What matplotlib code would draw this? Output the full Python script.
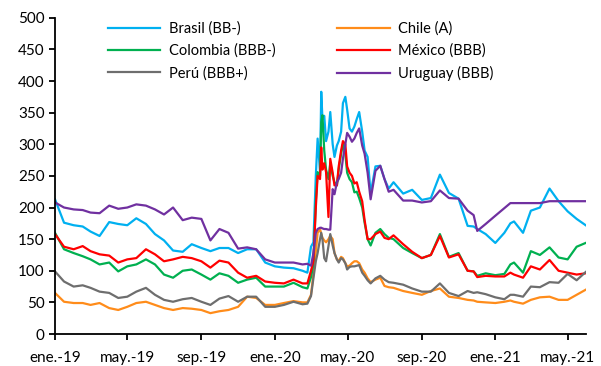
import matplotlib
matplotlib.use("Agg")
import matplotlib.pyplot as plt
import matplotlib.dates as mdates
import pandas as pd

# fechas (aprox. quincenal, mas denso en el pico de 2020)
dates = pd.to_datetime([
    "2019-01-01", "2019-01-16", "2019-02-01", "2019-02-16", "2019-03-01", "2019-03-16",
    "2019-04-01", "2019-04-16", "2019-05-01", "2019-05-16", "2019-06-01", "2019-06-16",
    "2019-07-01", "2019-07-16", "2019-08-01", "2019-08-16", "2019-09-01", "2019-09-16",
    "2019-10-01", "2019-10-16", "2019-11-01", "2019-11-16", "2019-12-01", "2019-12-16",
    "2020-01-01", "2020-01-16", "2020-02-01", "2020-02-16", "2020-02-24",
    "2020-03-01", "2020-03-05", "2020-03-09", "2020-03-12", "2020-03-16", "2020-03-18",
    "2020-03-20", "2020-03-23", "2020-03-26", "2020-03-30",
    "2020-04-02", "2020-04-06", "2020-04-09", "2020-04-13", "2020-04-16", "2020-04-20",
    "2020-04-23", "2020-04-27", "2020-04-30",
    "2020-05-04", "2020-05-08", "2020-05-12", "2020-05-16", "2020-05-20", "2020-05-25",
    "2020-05-29", "2020-06-03", "2020-06-08", "2020-06-16", "2020-06-24",
    "2020-07-01", "2020-07-08", "2020-07-16", "2020-08-01", "2020-08-16",
    "2020-09-01", "2020-09-16", "2020-10-01", "2020-10-16", "2020-11-01", "2020-11-16",
    "2020-11-26", "2020-12-02", "2020-12-16",
    "2021-01-01", "2021-01-16", "2021-01-26", "2021-02-01", "2021-02-16",
    "2021-03-01", "2021-03-16", "2021-04-01", "2021-04-16", "2021-05-01", "2021-05-16",
    "2021-05-31",
])

brasil = [213, 176, 172, 170, 162, 155, 177, 174, 172, 183, 174, 158, 148, 132,
          130, 142, 136, 131, 136, 136, 128, 134, 134, 113, 107, 105, 104,
          100, 97, 138, 145, 250, 309, 256, 383, 340, 345, 305, 320,
          351, 300, 280, 298, 305, 320, 365, 375, 355,
          325, 320, 328, 340, 351, 320, 290, 280, 222, 265, 266,
          245, 230, 240, 222, 228, 212, 215, 252, 223, 214, 171, 170, 166, 158,
          144, 160, 175, 178, 160, 195, 200, 230, 210, 194, 182, 172]
chile = [65, 51, 49, 49, 46, 49, 41, 38, 43, 49, 51, 46, 41, 38,
         41, 40, 38, 33, 36, 38, 43, 59, 57, 46, 46, 49, 52,
         50, 50, 62, 95, 130, 160, 166, 158, 152, 148, 145, 150,
         155, 150, 128, 118, 116, 122, 120, 112, 107,
         108, 112, 115, 115, 112, 102, 97, 88, 82, 86, 89,
         76, 74, 73, 68, 65, 62, 68, 72, 59, 57, 54, 53, 51, 50,
         49, 51, 53, 51, 48, 54, 58, 59, 54, 54, 62, 70]
colombia = [160, 134, 128, 123, 118, 110, 113, 99, 107, 110, 118, 110, 94, 89,
            100, 102, 94, 86, 96, 92, 81, 86, 89, 75, 75, 75, 81,
            74, 72, 90, 110, 210, 256, 250, 335, 346, 290, 260, 245,
            270, 250, 240, 235, 260, 285, 300, 285, 255,
            245, 240, 224, 225, 215, 200, 176, 150, 140, 160, 166,
            158, 152, 150, 136, 128, 120, 125, 158, 122, 128, 100, 99, 92, 96,
            93, 95, 110, 113, 97, 131, 125, 137, 121, 118, 138, 144]
mexico = [158, 138, 134, 139, 131, 126, 124, 113, 118, 120, 134, 126, 115, 118,
          122, 120, 115, 105, 116, 113, 97, 89, 92, 83, 81, 80, 86,
          80, 80, 100, 115, 200, 250, 245, 295, 260, 270, 256, 185,
          277, 255, 235, 235, 265, 290, 305, 300, 265,
          255, 250, 238, 240, 225, 210, 180, 150, 150, 158, 162,
          152, 150, 156, 142, 130, 120, 125, 155, 121, 126, 100, 99, 90, 92,
          91, 91, 97, 94, 89, 107, 102, 117, 100, 97, 94, 96]
peru = [99, 83, 75, 77, 73, 67, 65, 57, 59, 67, 73, 62, 54, 51,
        55, 57, 51, 46, 56, 60, 51, 59, 59, 43, 43, 46, 51,
        47, 48, 60, 88, 115, 128, 150, 160, 150, 120, 115, 139,
        158, 140, 128, 118, 113, 120, 118, 112, 102,
        106, 107, 107, 108, 109, 97, 92, 85, 80, 88, 92,
        86, 82, 81, 78, 72, 67, 67, 80, 65, 60, 68, 65, 66, 63,
        58, 55, 62, 62, 59, 75, 74, 82, 81, 95, 85, 98]
uruguay = [208, 200, 197, 196, 192, 191, 203, 198, 200, 205, 203, 197, 189, 200,
           180, 184, 182, 148, 166, 160, 135, 137, 134, 118, 113, 113, 113,
           110, 111, 108, 128, 160, 166, 168, 168, 167, 166, 166, 165,
           165, 229, 221, 240, 245, 255, 277, 300, 318,
           312, 304, 309, 318, 325, 298, 285, 255, 213, 258, 266,
           245, 225, 228, 211, 211, 208, 210, 227, 215, 214, 195, 188, 163, 174,
           187, 199, 207, 207, 207, 207, 207, 210, 210, 210, 210, 210]

labels = ["Brasil (BB-)", "Chile (A)", "Colombia (BBB-)",
          "México (BBB)", "Perú (BBB+)", "Uruguay (BBB)"]
colors = ["#00B0F0", "#FF8C1A", "#00B050", "#FF0000", "#6E6E6E", "#7030A0"]
series = [brasil, chile, colombia, mexico, peru, uruguay]

plt.rcParams['font.family'] = ['Lato', 'DejaVu Sans']

fig = plt.figure(figsize=(6.01, 3.66), dpi=100)
ax = fig.add_axes([0.0915, 0.0874, 0.884, 0.864])

lines = {}
for name, col, vals in zip(labels, colors, series):
    lines[name], = ax.plot(dates, vals, color=col, lw=1.6, label=name)

ax.set_ylim(0, 500)
ax.set_yticks(range(0, 501, 50))
ax.set_xlim(pd.Timestamp("2019-01-01"), pd.Timestamp("2021-06-01"))
ax.xaxis.set_major_locator(mdates.MonthLocator(bymonth=[1, 5, 9]))
meses = {1: "ene.", 5: "may.", 9: "sep."}
ax.xaxis.set_major_formatter(plt.FuncFormatter(
    lambda v, p: "%s-%s" % (meses[mdates.num2date(v).month], mdates.num2date(v).strftime("%y"))))

for s in ["top", "right"]:
    ax.spines[s].set_visible(False)
for s in ["left", "bottom"]:
    ax.spines[s].set_linewidth(1.3)
ax.tick_params(axis="both", direction="out", length=4, width=1.3, labelsize=11)
ax.tick_params(axis="x", pad=8)

# leyenda en dos columnas, orden por filas
order = ["Brasil (BB-)", "Colombia (BBB-)", "Perú (BBB+)",
         "Chile (A)", "México (BBB)", "Uruguay (BBB)"]
ax.legend([lines[n] for n in order], order, ncol=2, frameon=False,
          loc="upper left", bbox_to_anchor=(0.075, 1.03), fontsize=10.5,
          handlelength=3.6, handletextpad=0.6, columnspacing=4.2,
          labelspacing=0.55)

fig.savefig("out.png", dpi=100)
